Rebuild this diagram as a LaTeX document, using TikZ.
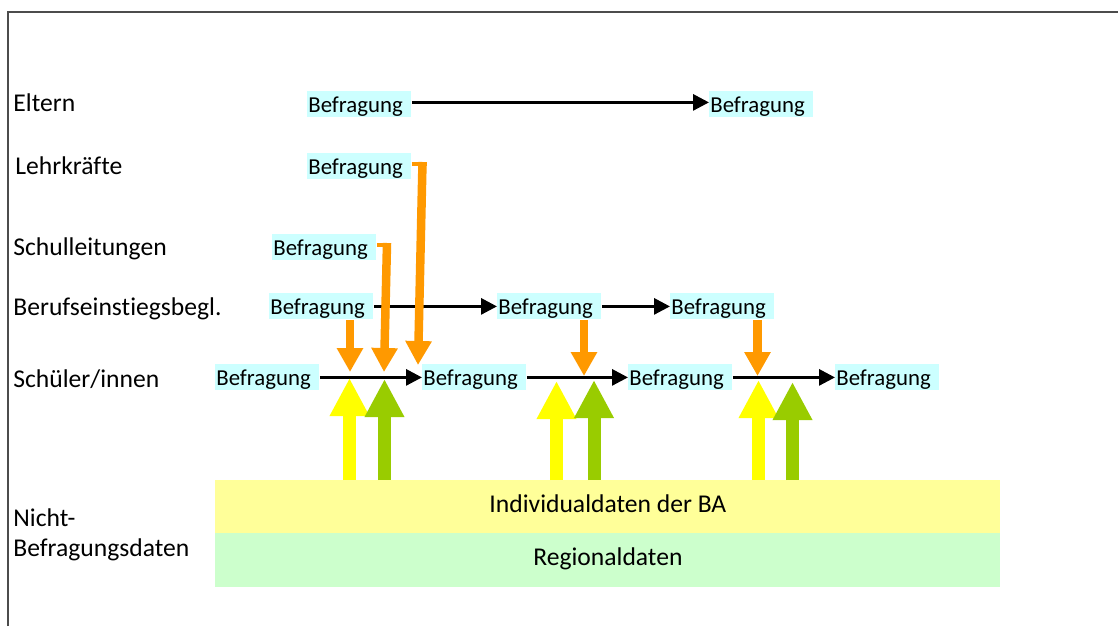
\documentclass[tikz,border=0pt]{standalone}
\usepackage{fontspec}
\setmainfont{Carlito}[Ligatures=NoCommon]
\usetikzlibrary{arrows.meta}
\definecolor{cyanbg}{HTML}{CCFFFF}
\definecolor{orarrow}{HTML}{FF9900}
\definecolor{yelarrow}{HTML}{FFFF00}
\definecolor{grnarrow}{HTML}{99CC00}
\definecolor{yelband}{HTML}{FFFF99}
\definecolor{grnband}{HTML}{CCFFCC}
\begin{document}
\begin{tikzpicture}[x=0.5pt,y=-0.5pt,
  lbl/.style={anchor=base west, inner sep=0pt, font=\fontsize{12.8}{15}\selectfont},
  bef/.style={anchor=north west, fill=cyanbg, inner xsep=0.5pt, inner ysep=0pt,
    text width=51pt, align=left, text height=10.5pt, text depth=2.5pt,
    font=\fontsize{11.4}{13}\selectfont},
  flow/.style={line width=1.5pt, -{Triangle[length=8pt,width=8pt]}},
  orthin/.style={draw=orarrow, line width=2pt},
  orfat/.style={draw=orarrow, line width=4.25pt, -{Triangle[length=12pt,width=12.5pt]}},
  upy/.style={draw=yelarrow, line width=6.5pt, -{Triangle[length=19pt,width=18.5pt]}},
  upg/.style={draw=grnarrow, line width=6.5pt, -{Triangle[length=19pt,width=18.5pt]}},
  band/.style={anchor=north west, inner xsep=0pt, inner ysep=0pt, minimum width=392.5pt,
    font=\fontsize{12.8}{15}\selectfont}
]
\useasboundingbox (0,0) rectangle (1118,626);
\draw[black!70, line width=0.75pt] (8,626) -- (8,12) -- (1118,12);

% row labels
\node[lbl] (lE) at (13,112) {Eltern};
\node[lbl] (lL) at (15,174) {Lehrkräfte};
\node[lbl] (lS) at (13,255) {Schulleitungen};
\node[lbl] (lB) at (13,315) {Berufseinstiegsbegl.};
\node[lbl] (lSch) at (13,387) {Schüler/innen};
\node[lbl] (lN1) at (13,526) {Nicht-};
\node[lbl] (lN2) at (13,556) {Befragungsdaten};

% Befragung boxes
\node[bef] (e1) at (307,91) {Befragung};
\node[bef] (e2) at (709,91) {Befragung};
\node[bef] (lk) at (307,153) {Befragung};
\node[bef] (sl) at (272,234) {Befragung};
\node[bef] (b1) at (269,293) {Befragung};
\node[bef] (b2) at (497,293) {Befragung};
\node[bef] (b3) at (670,293) {Befragung};
\node[bef] (s1) at (215,364) {Befragung};
\node[bef] (s2) at (422,364) {Befragung};
\node[bef] (s3) at (628,364) {Befragung};
\node[bef] (s4) at (835,364) {Befragung};

% data bands
\node[band, fill=yelband, minimum height=26.5pt, text height=16pt, text depth=10.5pt] (ib) at (215,480) {Individualdaten der BA};
\node[band, fill=grnband, minimum height=27pt, text height=16pt, text depth=11pt] (rd) at (215,533) {Regionaldaten};

% black flow arrows
\draw[flow] ([yshift=1pt]e1.east) -- ([yshift=1pt]e2.west);
\draw[flow] (b1.east) -- (b2.west);
\draw[flow] (b2.east) -- (b3.west);
\draw[flow] (s1.east) -- (s2.west);
\draw[flow] (s2.east) -- (s3.west);
\draw[flow] (s3.east) -- (s4.west);

% orange arrows
\coordinate (lkc) at (422.5,164);
\coordinate (lkt) at (418,365);
\draw[orthin] (lk.east |- lkc) -- ([xshift=2.1pt]lkc);
\draw[orfat] ([yshift=1pt]lkc) -- (lkt);

\coordinate (slc) at (387,245);
\coordinate (slt) at (384,372);
\draw[orthin] (sl.east |- slc) -- ([xshift=2.1pt]slc);
\draw[orfat] ([yshift=1pt]slc) -- (slt);

\coordinate (o1t) at (350,372);
\draw[orfat] (b1.south -| o1t) -- (o1t);
\coordinate (o2t) at (584,376);
\draw[orfat] (b2.south -| o2t) -- (o2t);
\coordinate (o3t) at (757.5,376);
\draw[orfat] (b3.south -| o3t) -- (o3t);

% up arrows
\coordinate (y1t) at (349.5,378);
\coordinate (g1t) at (384.5,379);
\coordinate (y2t) at (556.5,381);
\coordinate (g2t) at (594,380);
\coordinate (y3t) at (758.5,380);
\coordinate (g3t) at (792.5,382);
\draw[upy] (ib.north -| y1t) -- (y1t);
\draw[upg] (ib.north -| g1t) -- (g1t);
\draw[upy] (ib.north -| y2t) -- (y2t);
\draw[upg] (ib.north -| g2t) -- (g2t);
\draw[upy] (ib.north -| y3t) -- (y3t);
\draw[upg] (ib.north -| g3t) -- (g3t);
\end{tikzpicture}
\end{document}
